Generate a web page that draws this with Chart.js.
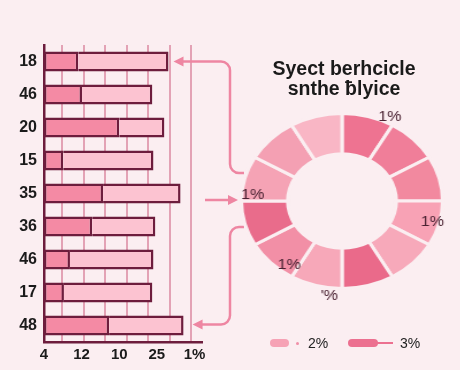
<!DOCTYPE html>
<html>
<head>
<meta charset="utf-8">
<script src="https://cdn.jsdelivr.net/npm/chart.js@4.4.1/dist/chart.umd.min.js"></script>
<style>
  body { margin: 0; background: #fbeef1; }
  #wrap { position: relative; width: 460px; height: 370px; overflow: hidden; background: #fbeef1; font-family: "Liberation Sans", Arial, sans-serif; }
  #barras { position: absolute; left: 0; top: 0; }
  #rosca { position: absolute; left: 232px; top: 91px; transform: scaleX(1.15); transform-origin: 50% 50%; }
  #titulo { position: absolute; left: 244px; width: 200px; top: 58px; text-align: center; font-weight: bold; font-size: 19.5px; line-height: 20px; color: #1a1a1a; }
  .leg { position: absolute; top: 336px; font-size: 14px; color: #222; line-height: 14px; }
  .pill { position: absolute; height: 8px; border-radius: 4px; }
</style>
</head>
<body>
<div id="wrap">
  <canvas id="barras" width="460" height="370"></canvas>
  <canvas id="rosca" width="220" height="220"></canvas>
  <div id="titulo">Syect berhcicle<br>snthe ƀlyice</div>
  <div class="pill" style="left:270px; top:339px; width:19px; background:#f6a2b5;"></div>
  <div class="pill" style="left:296px; top:342px; width:3px; height:3px; background:#f08fa8;"></div>
  <div class="leg" style="left:308px;">2%</div>
  <div class="pill" style="left:348px; top:339px; width:30px; background:#ec7090;"></div>
  <div style="position:absolute; left:376px; top:342px; width:17px; height:2px; background:#ec7090;"></div>
  <div class="leg" style="left:400px;">3%</div>
</div>

<script>
// dados das barras
const categorias = ['18', '46', '20', '15', '35', '36', '46', '17', '48'];
const parteEscura = [9.1, 10.1, 20, 5.1, 15.7, 12.8, 6.9, 5.3, 17.3];
const parteClara = [24, 18.7, 12, 24, 20.6, 16.8, 22.2, 23.5, 19.8];
const ticksX = ['4', '12', '10', '25', '1%'];
const valoresTicksX = [0, 10, 20, 30, 40];
const linhasGrade = [0, 1, 2, 3, 4, 5, 6];

// dados da rosca
const fatias = [1, 1, 1, 1, 1, 1, 1, 1, 1, 1, 1, 1];
const rotulosFatias = ['1%', '', '', '1%', '', '', "'%", '1%', '', '1%', '', ''];
const coresFatias = ['#ee7391', '#f07e99', '#f2899f', '#f8a2b5', '#f7a9ba', '#ea6a8a',
                     '#f7a8b9', '#f28fa6', '#e96c8b', '#f5a3b5', '#f4a0b3', '#f9b6c5'];

const vinho = '#6d1d3d';
const rosaSeta = '#ee86a2';

// setas decorativas ligando as barras a rosca
const setasPlugin = {
  id: 'setas',
  afterDraw(chart) {
    const ctx = chart.ctx;
    const area = chart.chartArea;
    const barras = chart.getDatasetMeta(1).data;
    const cotovelo = area.right + 28;

    function ponta(x, y, dir) {
      ctx.beginPath();
      ctx.moveTo(x, y);
      ctx.lineTo(x - dir * 10, y - 5);
      ctx.lineTo(x - dir * 10, y + 5);
      ctx.closePath();
      ctx.fill();
    }

    ctx.save();
    ctx.strokeStyle = rosaSeta;
    ctx.fillStyle = rosaSeta;
    ctx.lineWidth = 2.5;
    ctx.lineJoin = 'round';

    // seta de cima
    const b0 = barras[0];
    ctx.beginPath();
    ctx.moveTo(b0.x + 12, b0.y);
    ctx.arcTo(cotovelo, b0.y, cotovelo, b0.y + 60, 9);
    ctx.arcTo(cotovelo, 173, cotovelo + 20, 173, 9);
    ctx.lineTo(cotovelo + 14, 173);
    ctx.stroke();
    ponta(b0.x + 5, b0.y, -1);

    // seta do meio
    ctx.beginPath();
    ctx.moveTo(area.right + 3, 200);
    ctx.lineTo(area.right + 28, 200);
    ctx.stroke();
    ponta(area.right + 36, 200, 1);

    // seta de baixo
    const b8 = barras[8];
    ctx.beginPath();
    ctx.moveTo(cotovelo + 14, 227);
    ctx.arcTo(cotovelo, 227, cotovelo, 260, 9);
    ctx.arcTo(cotovelo, b8.y - 1, cotovelo - 20, b8.y - 1, 9);
    ctx.lineTo(b8.x + 16, b8.y - 1);
    ctx.stroke();
    ponta(b8.x + 9, b8.y - 1, -1);
    ctx.restore();
  }
};

const graficoBarras = new Chart(document.getElementById('barras'), {
  type: 'bar',
  data: {
    labels: categorias,
    datasets: [{
      label: 'escura',
      data: parteEscura,
      backgroundColor: '#f48aa4',
      borderColor: vinho,
      borderWidth: 2.5,
      borderSkipped: false,
      barPercentage: 0.6,
      categoryPercentage: 1
    }, {
      label: 'clara',
      data: parteClara,
      backgroundColor: '#fcc3d1',
      borderColor: vinho,
      borderWidth: { top: 2.5, bottom: 2.5, right: 2.5, left: 0 },
      borderSkipped: false,
      barPercentage: 0.6,
      categoryPercentage: 1
    }]
  },
  options: {
    indexAxis: 'y',
    responsive: false,
    animation: false,
    layout: { padding: { left: 0, top: 45, right: 258, bottom: 0 } },
    plugins: { legend: { display: false }, tooltip: { enabled: false } },
    scales: {
      y: {
        stacked: true,
        grid: { display: false, drawTicks: false },
        border: { color: vinho, width: 2.5 },
        ticks: { color: '#1b1b1b', padding: 7, font: { family: 'Liberation Sans', size: 16, weight: 'bold' } },
        afterFit(scale) { scale.width = 44; }
      },
      x: {
        stacked: true,
        min: 0,
        max: 42,
        grid: { display: false, drawTicks: false },
        border: { color: vinho, width: 2.5 },
        afterBuildTicks(scale) { scale.ticks = valoresTicksX.map(v => ({ value: v })); },
        ticks: {
          padding: 4,
          color: '#1b1b1b',
          font: { family: 'Liberation Sans', size: 15, weight: 'bold' },
          callback: (v, i) => ticksX[i]
        },
        afterFit(scale) { scale.height = 28; }
      },
      // eixo só para as linhas de grade verticais
      xg: {
        type: 'linear',
        position: 'bottom',
        min: -0.84,
        max: 6.51,
        afterBuildTicks(scale) { scale.ticks = linhasGrade.map(v => ({ value: v })); },
        ticks: { display: false },
        border: { display: false },
        grid: { drawTicks: false, lineWidth: 2, color: '#e3a2b5' },
        afterFit(scale) { scale.height = 0; }
      }
    }
  },
  plugins: [setasPlugin]
});

// rotulos das fatias
const rotulosPlugin = {
  id: 'rotulos',
  afterDatasetsDraw(chart, args, opts) {
    const ctx = chart.ctx;
    const arcos = chart.getDatasetMeta(0).data;
    ctx.save();
    ctx.fillStyle = '#4a2232';
    ctx.font = '14px "Liberation Sans", Arial, sans-serif';
    ctx.textAlign = 'center';
    ctx.textBaseline = 'middle';
    arcos.forEach((a, i) => {
      const txt = rotulosFatias[i];
      if (!txt) return;
      const pos = opts.pos[i];
      const ang = a.startAngle + (a.endAngle - a.startAngle) * pos[0];
      const r = a.outerRadius * pos[1];
      ctx.fillText(txt, a.x + Math.cos(ang) * r, a.y + Math.sin(ang) * r);
    });
    ctx.restore();
  }
};

const graficoRosca = new Chart(document.getElementById('rosca'), {
  type: 'doughnut',
  data: {
    labels: rotulosFatias,
    datasets: [{
      data: fatias,
      backgroundColor: coresFatias,
      borderColor: '#fbeef1',
      borderWidth: 3
    }]
  },
  options: {
    responsive: false,
    animation: false,
    cutout: '54%',
    layout: { padding: 21 },
    plugins: {
      legend: { display: false },
      tooltip: { enabled: false },
      rotulos: {
        // [fracao do angulo dentro da fatia, fator do raio]
        pos: { 0: [0.88, 1.07], 3: [0.5, 0.93], 6: [0.22, 1.1], 7: [0.19, 0.9], 9: [0.15, 0.89] }
      }
    }
  },
  plugins: [rotulosPlugin]
});
</script>
</body>
</html>
